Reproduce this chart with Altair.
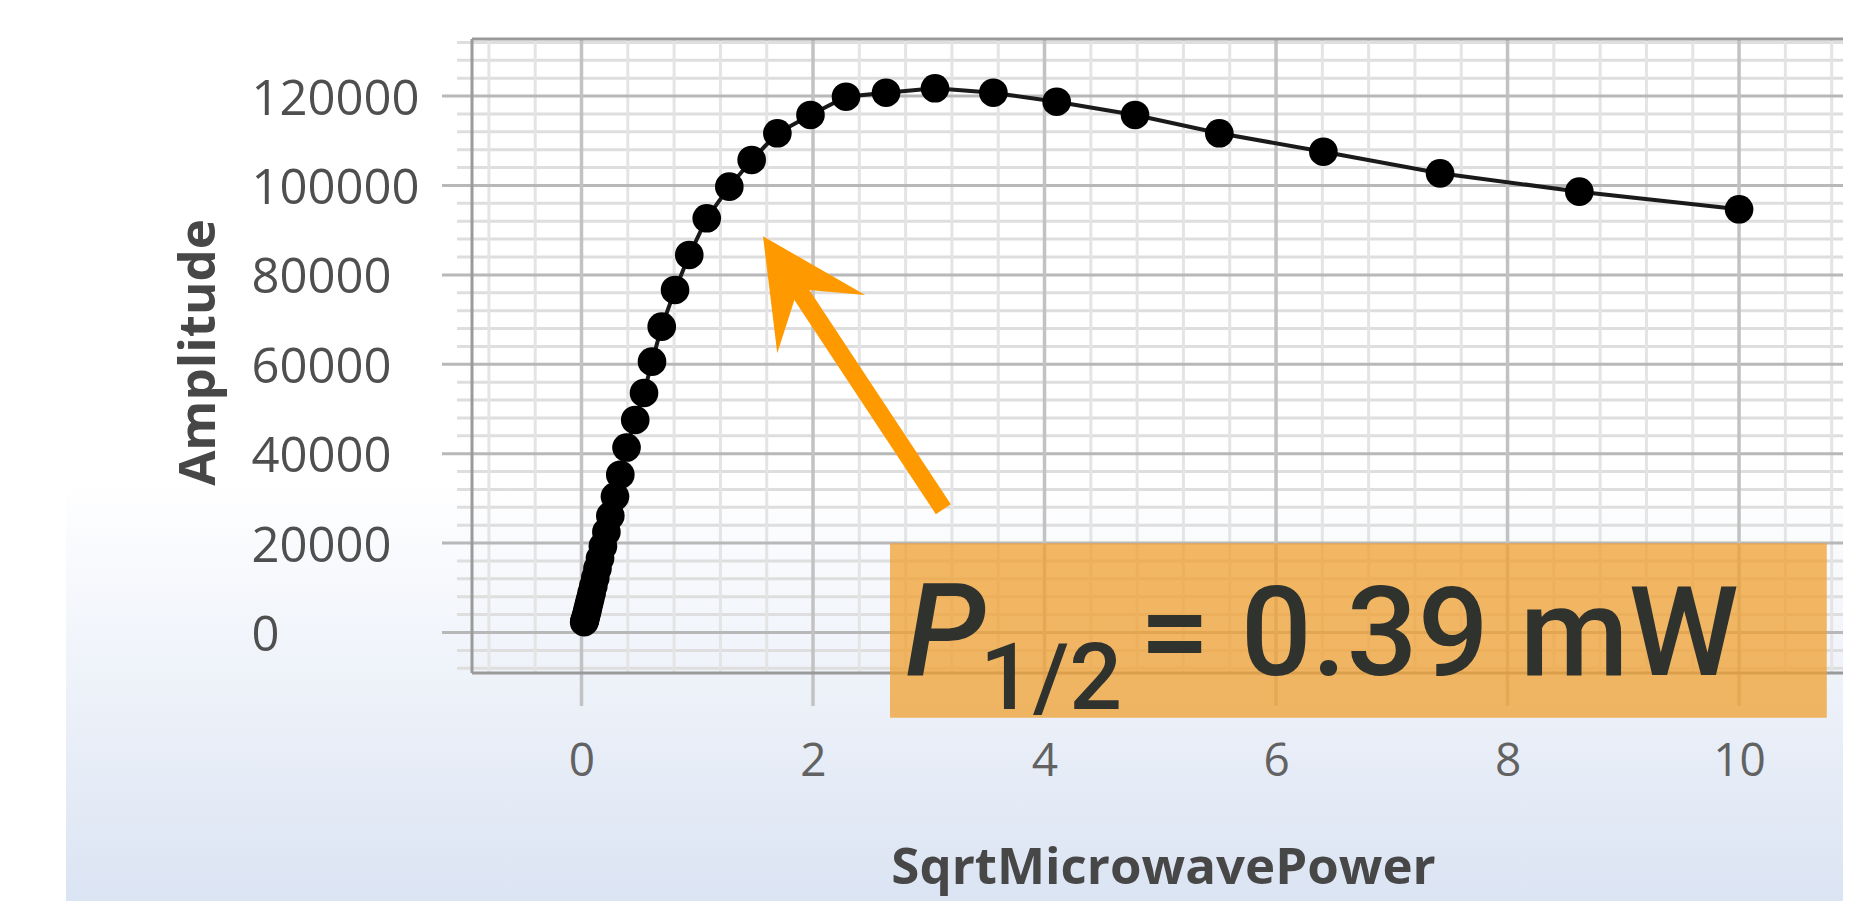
import altair as alt
import pandas as pd

# ---- data ----
sqrt_power = [0.023, 0.027, 0.031, 0.036, 0.042, 0.049, 0.057, 0.066, 0.076, 0.088,
              0.102, 0.119, 0.138, 0.160, 0.185, 0.215, 0.249, 0.289, 0.335, 0.389,
              0.464, 0.540, 0.609, 0.693, 0.808, 0.931, 1.082, 1.277, 1.470, 1.692,
              1.978, 2.285, 2.631, 3.054, 3.558, 4.105, 4.782, 5.510, 6.409, 7.417,
              8.620, 10.0]
amplitude = [2300, 2600, 2900, 3400, 4000, 4700, 5600, 6600, 7600, 8900,
             10400, 12200, 14300, 16600, 19300, 22500, 26100, 30400, 35300, 41380,
             47540, 53580, 60580, 68410, 76620, 84450, 92660, 99730, 105700, 111670,
             115770, 119860, 120750, 121740, 120750, 118740, 115770, 111670, 107550, 102720,
             98610, 94670]

x_major = [0, 2, 4, 6, 8, 10]
x_minor = [-0.8, -0.4, 0.4, 0.8, 1.2, 1.6, 2.4, 2.8, 3.2, 3.6, 4.4, 4.8, 5.2, 5.6,
           6.4, 6.8, 7.2, 7.6, 8.4, 8.8, 9.2, 9.6, 10.4, 10.8]
y_major = [0, 20000, 40000, 60000, 80000, 100000, 120000]
y_minor = [-8000, -4000, 4000, 8000, 12000, 16000, 24000, 28000, 32000, 36000,
           44000, 48000, 52000, 56000, 64000, 68000, 72000, 76000, 84000, 88000,
           92000, 96000, 104000, 108000, 112000, 116000, 124000, 128000, 132000]

x_domain = [-0.946, 10.898]
y_domain = [-9060, 132766]

# annotation (data coordinates)
arrow_shaft_x = [3.126, 1.868]
arrow_shaft_y = [27580, 76880]
arrow_tip_x = [1.568]
arrow_tip_y = [88650]
box_x, box_x2 = [2.665], [10.758]
box_y, box_y2 = [19954], [-19059]
note_parts = ["P", "1/2", "= 0.39 mW"]
note_x = [2.795, 3.443, 4.82]
note_y = [-9507, -17113, -9507]

W, H = 1371, 634
ORANGE = "#ff9900"
FONT = "Open Sans"

xs = alt.Scale(domain=x_domain, nice=False, zero=False)
ys = alt.Scale(domain=y_domain, nice=False, zero=False)

x_axis = alt.Axis(
    values=x_major, format="d", grid=False, domain=False, ticks=False, tickSize=0,
    labelPadding=88, labelBaseline="middle", labelFont=FONT, labelFontSize=46,
    labelColor="#626262", title="SqrtMicrowavePower", titleFont=FONT,
    titleFontWeight="bold", titleFontSize=51, titleColor="#474747",
    titleX=691, titleY=195, titleBaseline="middle", titleAlign="center", zindex=2)
y_axis = alt.Axis(
    values=y_major, format="d", grid=False, domain=False, ticks=False, tickSize=0,
    labelPadding=221, labelAlign="left", labelBaseline="middle", labelOffset=3,
    labelFont=FONT, labelFontSize=49, labelColor="#4f4f4f", title="Amplitude",
    titleFont=FONT, titleFontWeight="bold", titleFontSize=51, titleColor="#474747",
    titleX=-273, titleY=313, titleAngle=270, titleAlign="center", titleBaseline="middle",
    zindex=2)


def X(field):
    return alt.X(field, scale=xs, axis=x_axis)


def Y(field):
    return alt.Y(field, scale=ys, axis=y_axis)


# background gradient
bg = alt.Chart(pd.DataFrame({"a": [0]})).mark_rect(
    color=alt.LinearGradient(
        gradient="linear",
        stops=[alt.GradientStop(offset=0, color="#ffffff"),
               alt.GradientStop(offset=0.25, color="#f6f8fc"),
               alt.GradientStop(offset=1, color="#dbe4f3")],
        x1=0, x2=0, y1=0, y2=1)
).encode(x=alt.value(-406), x2=alt.value(W + 20), y=alt.value(441), y2=alt.value(862))

ymin = alt.Chart(pd.DataFrame({"v": y_minor})).mark_rule(color="#dedede", strokeWidth=3).encode(
    y=Y("v:Q"), x=alt.value(-15), x2=alt.value(W))
xmin = alt.Chart(pd.DataFrame({"v": x_minor})).mark_rule(color="#e4e4e4", strokeWidth=3).encode(
    x=X("v:Q"), y=alt.value(0), y2=alt.value(H))
ymaj = alt.Chart(pd.DataFrame({"v": y_major})).mark_rule(color="#b8b8b8", strokeWidth=3).encode(
    y=Y("v:Q"), x=alt.value(-30), x2=alt.value(W))
xmaj = alt.Chart(pd.DataFrame({"v": x_major})).mark_rule(color="#c2c2c2", strokeWidth=3.5).encode(
    x=X("v:Q"), y=alt.value(0), y2=alt.value(H + 33))

frame_df = pd.DataFrame({"a": [0]})
frame_left = alt.Chart(frame_df).mark_rule(color="#9a9a9a", strokeWidth=3).encode(
    x=alt.value(0), y=alt.value(0), y2=alt.value(H))
frame_top = alt.Chart(frame_df).mark_rule(color="#9a9a9a", strokeWidth=3).encode(
    x=alt.value(0), x2=alt.value(W), y=alt.value(0))
frame_bottom = alt.Chart(frame_df).mark_rule(color="#9a9a9a", strokeWidth=3).encode(
    x=alt.value(0), x2=alt.value(W), y=alt.value(H))

df = pd.DataFrame({"SqrtMicrowavePower": sqrt_power, "Amplitude": amplitude})

line = alt.Chart(df).mark_line(color="#1a1a1a", strokeWidth=4).encode(
    x=X("SqrtMicrowavePower:Q"), y=Y("Amplitude:Q"))
pts = alt.Chart(df).mark_circle(size=820, color="black", opacity=1).encode(
    x=X("SqrtMicrowavePower:Q"), y=Y("Amplitude:Q"))

box = alt.Chart(pd.DataFrame({"x": box_x, "x2": box_x2, "y": box_y, "y2": box_y2})).mark_rect(
    color="#f0a030", opacity=0.75).encode(
    x=X("x:Q"), x2="x2:Q", y=Y("y:Q"), y2="y2:Q")

note_df = pd.DataFrame({"t": note_parts, "x": note_x, "y": note_y})


def note(i, size, style):
    return alt.Chart(note_df.iloc[[i]]).mark_text(
        font="Roboto", fontSize=size, fontStyle=style, fontWeight=500, align="left",
        baseline="alphabetic", color="#30322e").encode(x=X("x:Q"), y=Y("y:Q"), text="t:N")


t1 = note(0, 130, "italic")
t2 = note(1, 93, "normal")
t3 = note(2, 125, "normal")

shaft = alt.Chart(pd.DataFrame({"x": arrow_shaft_x, "y": arrow_shaft_y})).mark_line(
    color=ORANGE, strokeWidth=18, strokeCap="butt").encode(x=X("x:Q"), y=Y("y:Q"))
head = alt.Chart(pd.DataFrame({"x": arrow_tip_x, "y": arrow_tip_y})).mark_point(
    shape="M0,0 L1,2 L0,1.2 L-1,2 Z", filled=True, size=11130, angle=326.5,
    color=ORANGE, opacity=1, strokeWidth=0).encode(x=X("x:Q"), y=Y("y:Q"))

chart = alt.layer(
    bg, ymin, xmin, ymaj, xmaj, frame_left, frame_top, frame_bottom,
    line, pts, box, t1, t2, t3, shaft, head
).properties(
    width=W, height=H,
    autosize=alt.AutoSizeParams(type="none"),
    padding={"left": 464, "top": 31, "right": 0, "bottom": 228},
    background="white",
).configure_view(stroke=None)

chart.save("out.html", embed_options={"renderer": "svg", "actions": False})
